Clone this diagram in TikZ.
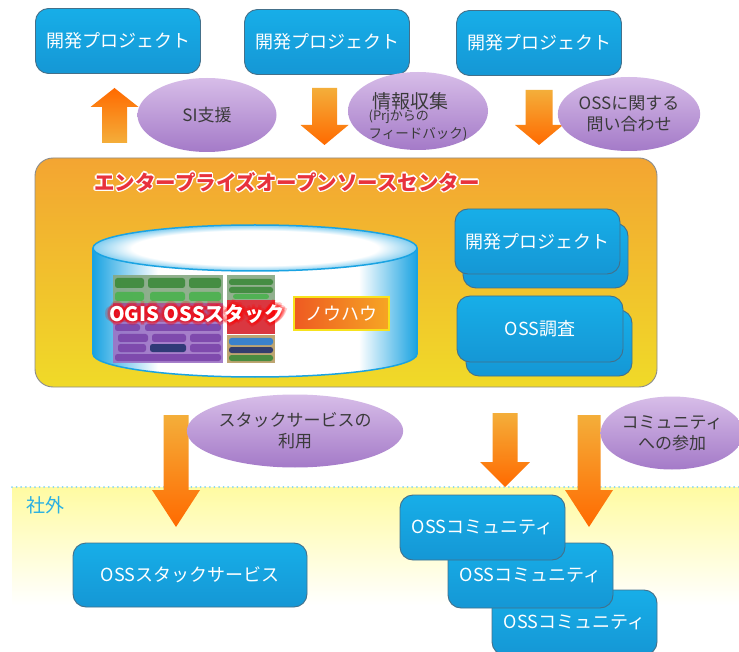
\documentclass[tikz,border=0pt]{standalone}
\usepackage{fontspec}
\setmainfont{Noto Sans CJK JP}
\usetikzlibrary{shapes.geometric}

% palette
\definecolor{boxblue}{HTML}{17AEE8}
\definecolor{boxblueD}{HTML}{1597D5}
\definecolor{boxedge}{HTML}{44708A}
\definecolor{lavT}{HTML}{D7BDE8}
\definecolor{lavB}{HTML}{A47AC8}
\definecolor{bubbletext}{HTML}{3A3A3A}
\definecolor{arrL}{HTML}{F4AE3A}
\definecolor{arrD}{HTML}{FF6A00}
\definecolor{centT}{HTML}{F3A532}
\definecolor{centB}{HTML}{F0DA28}
\definecolor{centEdge}{HTML}{8C8C8C}
\definecolor{cylblue}{HTML}{1AA3E2}
\definecolor{titlered}{HTML}{E8323C}
\definecolor{outsideblue}{HTML}{2AB0E2}
\definecolor{bandyellow}{HTML}{FFFBA2}
\definecolor{bandmid}{HTML}{FFFCCB}
\definecolor{dotblue}{HTML}{86D6F0}
\definecolor{knowL}{HTML}{EE5A22}
\definecolor{knowR}{HTML}{F6A623}
\definecolor{knowEdge}{HTML}{F7E21E}
% stack chart colours
\definecolor{stkbg}{HTML}{86A882}
\definecolor{stkdk}{HTML}{3D8A3B}
\definecolor{stklt}{HTML}{4BB24E}
\definecolor{stkmix}{HTML}{A04A8A}
\definecolor{stkpur}{HTML}{9D72C5}
\definecolor{stkpurD}{HTML}{7B45AA}
\definecolor{stknavy}{HTML}{24336E}
\definecolor{stkred}{HTML}{D6222C}
\definecolor{stktan}{HTML}{B79C62}
\definecolor{stkblue}{HTML}{2C7FD6}

% side of the storage cylinder: blue rims, white middle
\pgfdeclarehorizontalshading{cylside}{100bp}{color(0bp)=(cylblue); color(25bp)=(cylblue); color(35bp)=(white); color(66bp)=(white); color(75bp)=(cylblue); color(100bp)=(cylblue)}
% lid of the cylinder: white with a soft blue rim
\pgfdeclareradialshading{rimglow}{\pgfpoint{0bp}{0bp}}{color(0bp)=(white); color(19bp)=(white); color(25bp)=(cylblue!55); color(50bp)=(cylblue!55)}

% block arrows: #1 centre x, #2 shaft half width, #3 head half width,
% #4 tail y, #5 head base y, #6 tip y
\newcommand{\dnarrowblock}[6]{%
  \shade[top color=arrL, bottom color=arrD]
    (#1-#2,#4) -- (#1+#2,#4) -- (#1+#2,#5) -- (#1+#3,#5) -- (#1,#6)
    -- (#1-#3,#5) -- (#1-#2,#5) -- cycle;}
\newcommand{\uparrowblock}[6]{%
  \shade[top color=arrD, bottom color=arrL]
    (#1-#2,#4) -- (#1+#2,#4) -- (#1+#2,#5) -- (#1+#3,#5) -- (#1,#6)
    -- (#1-#3,#5) -- (#1-#2,#5) -- cycle;}

\begin{document}
\begin{tikzpicture}[x=1pt,y=-1pt,
  bluebox/.style={rectangle, rounded corners=13pt, draw=boxedge, line width=0.9pt,
    top color=boxblue, bottom color=boxblueD, text=white,
    font=\fontsize{18}{20}\selectfont, minimum width=165pt, minimum height=65pt, inner sep=0pt},
  bubble/.style={ellipse, top color=lavT, bottom color=lavB, text=bubbletext,
    font=\fontsize{17}{21}\selectfont, align=center, inner sep=0pt},
  titletext/.style={font=\fontsize{20.5}{22}\selectfont\bfseries, inner sep=0pt},
  ogistext/.style={font=\fontsize{20}{22}\selectfont\bfseries, inner sep=0pt},
  pill/.style={rounded corners=2.5pt},
]
\useasboundingbox (0,0) rectangle (739,652);
\clip (0,0) rectangle (739,652);
\fill[white] (0,0) rectangle (739,652);

% ---- outside-the-company band ----
\shade[top color=bandyellow, middle color=bandmid, bottom color=white] (12,487) rectangle (739,605);
\draw[dotblue, line width=2pt, line cap=round, dash pattern=on 0pt off 4.6pt] (12,487) -- (739,487);
\node[text=outsideblue, font=\fontsize{19}{21}\selectfont, inner sep=0pt] (outside) at (46,505) {社外};

% ---- development projects on top ----
\node[bluebox] (projA) at (118,41) {開発プロジェクト};
\node[bluebox] (projB) at (327,42) {開発プロジェクト};
\node[bluebox] (projC) at (539,43) {開発プロジェクト};

% ---- arrows between projects and the centre ----
\uparrowblock{114.5}{12.5}{24}{143}{107}{88}
\dnarrowblock{324.5}{12.5}{24}{88}{125}{145}
\dnarrowblock{539}{13.5}{24}{90}{125}{145}

\node[bubble, minimum width=139pt, minimum height=74pt] (siSupport) at (207,115) {SI支援};
\node[bubble, minimum width=140pt, minimum height=78pt] (infoGather) at (418,111) {};
\node[text=bubbletext, align=left, inner sep=0pt] (infoText) at (418,117)
  {\hspace*{4pt}{\fontsize{19}{19}\selectfont 情報収集}\\[-1pt]
   {\fontsize{13}{16}\selectfont (Prjからの}\\[3pt]
   {\fontsize{13.5}{16}\selectfont フィードバック)}};
\node[bubble, minimum width=138pt, minimum height=74pt] (inquiry) at (629,114) {OSSに関する\\問い合わせ};

% ---- enterprise open source centre ----
\node[rectangle, rounded corners=18pt, draw=centEdge, line width=0.9pt,
      top color=centT, bottom color=centB,
      minimum width=622pt, minimum height=229pt] (centre) at (346,272.5) {};
% title: white halo, then the red lettering
\foreach \dx/\dy in {1.4/0,-1.4/0,0/1.4,0/-1.4,1/1,-1/1,1/-1,-1/-1}
  \node[titletext, text=white] at (287+\dx,182+\dy) {エンタープライズオープンソースセンター};
\node[titletext, text=titlered] (title) at (287,182) {エンタープライズオープンソースセンター};

% storage cylinder
\shade[shading=cylside] (93,248) rectangle (417,354);
\shade[shading=cylside] (255,354) ellipse [x radius=162, y radius=23];
\begin{scope}
  \clip (80,354) rectangle (430,390);
  \draw[cylblue, line width=1.5pt] (255,354) ellipse [x radius=162, y radius=23];
\end{scope}
\draw[cylblue, line width=1.5pt] (93,248) -- (93,354) (417,248) -- (417,354);
\shade[shading=rimglow] (255,248) ellipse [x radius=162, y radius=23];
\draw[cylblue, line width=1.5pt] (255,248) ellipse [x radius=162, y radius=23];

% stack chart inside the cylinder
\begin{scope}[opacity=0.9]
  \fill[stkbg] (113,275) rectangle (223,303);
  \fill[stkdk, pill] (115,278) rectangle (144,288);
  \fill[stkdk, pill] (148,278) rectangle (185,288);
  \fill[stkdk, pill] (189,278) rectangle (221,288);
  \fill[stklt, pill] (115,292) rectangle (144,301);
  \fill[stklt, pill] (150,292) rectangle (185,301);
  \fill[stklt, pill] (189,292) rectangle (221,301);
  \fill[stkmix] (113,303) rectangle (223,322);
  \fill[stkpur] (113,322) rectangle (223,363);
  \fill[stkpurD, pill] (115,324) rectangle (140,331);
  \fill[stkpurD, pill] (145,324) rectangle (221,331);
  \fill[stkpurD, pill] (118,334) rectangle (148,342);
  \fill[stkpurD, pill] (152,334) rectangle (186,342);
  \fill[stkpurD, pill] (190,334) rectangle (221,342);
  \fill[stkpurD, pill] (118,344) rectangle (146,352);
  \fill[stknavy, pill] (150,344) rectangle (186,352);
  \fill[stkpurD, pill] (190,344) rectangle (221,352);
  \fill[stkpurD, pill] (115,354) rectangle (221,361);
  \fill[stkbg] (227,275) rectangle (275,300);
  \fill[stkdk, pill] (229,279) rectangle (273,285);
  \fill[stkdk, pill] (229,287) rectangle (273,293);
  \fill[stklt, pill] (233,294) rectangle (269,299);
  \fill[stkred] (227,300) rectangle (275,334);
  \fill[stktan] (227,335) rectangle (275,363);
  \fill[stkblue, pill] (229,338) rectangle (273,345);
  \fill[stknavy, pill] (229,347) rectangle (273,353);
  \fill[stkdk, pill] (229,355) rectangle (273,361);
\end{scope}

% know-how label
\node[rectangle, left color=knowL, right color=knowR, draw=knowEdge, line width=1.5pt,
      minimum width=95pt, minimum height=33pt, inner sep=0pt, text=white,
      font=\fontsize{18}{20}\selectfont] (knowhow) at (341.5,313.5) {ノウハウ};

% OGIS stack caption with red glow
\foreach \dx/\dy in {3/0,-3/0,0/3,0/-3,2.2/2.2,-2.2/2.2,2.2/-2.2,-2.2/-2.2,4.5/0,-4.5/0,0/4.5,0/-4.5}
  \node[ogistext, text=red, opacity=0.22] at (197+\dx,314+\dy) {OGIS OSSスタック};
\node[ogistext, text=white] (ogis) at (197,314) {OGIS OSSスタック};

% projects and surveys handled inside the centre
\node[bluebox] (projInBack) at (545.5,255.5) {};
\node[bluebox] (projIn) at (537.5,241.5) {開発プロジェクト};
\node[bluebox, minimum width=166pt, minimum height=66pt] (surveyBack) at (549,343) {};
\node[bluebox, minimum width=166pt, minimum height=66pt] (survey) at (540,329) {OSS調査};

% ---- arrows out of the centre ----
\dnarrowblock{176}{12.5}{24}{415}{490}{527}
\dnarrowblock{505}{12.5}{25}{413}{462}{487}
\dnarrowblock{589}{11.5}{24}{415}{490}{527}

\node[bubble, minimum width=190pt, minimum height=73pt] (stackUse) at (295,431) {スタックサービスの\\利用};
\node[bubble, minimum width=132pt, minimum height=73pt] (joinComm) at (672,433) {コミュニティ\\への参加};

% ---- outside services and communities ----
\node[bluebox, minimum width=234pt, minimum height=64pt] (stackService) at (190,575) {OSSスタックサービス};
\node[bluebox] (commC) at (574.5,622.5) {OSSコミュニティ};
\node[bluebox] (commB) at (530.5,575.5) {OSSコミュニティ};
\node[bluebox] (commA) at (482.5,527.5) {OSSコミュニティ};
\end{tikzpicture}
\end{document}
